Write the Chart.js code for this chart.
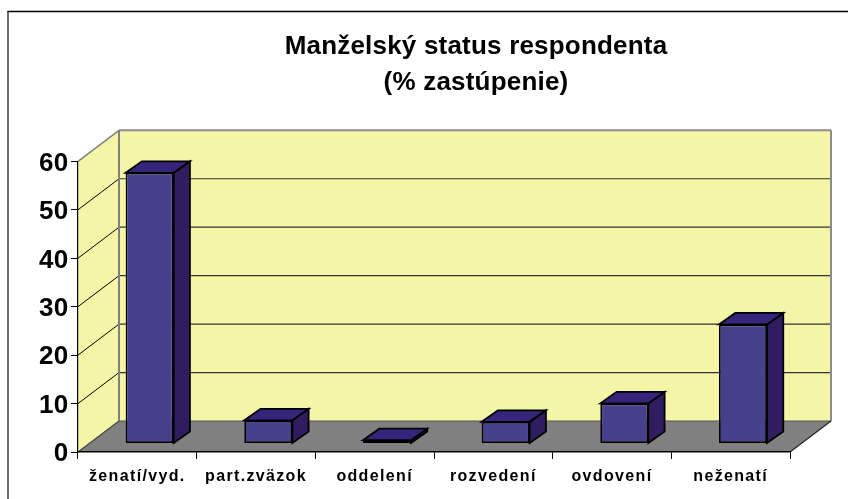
<!DOCTYPE html>
<html><head><meta charset="utf-8">
<style>html,body{margin:0;padding:0;background:#fff}canvas{display:block}</style>
<script src="https://cdn.jsdelivr.net/npm/chart.js@4"></script>
</head><body><canvas id="c" width="848" height="499"></canvas>
<script>
const categories = ['ženatí/vyd.','part.zväzok','oddelení','rozvedení','ovdovení','neženatí'];
const percentValues = [55.9, 4.8, 0.7, 4.5, 8.3, 24.6];
const titleLines = ['Manželský status respondenta','(% zastúpenie)'];

const DX = 41, DY = -31;
const SHIFT_X = 12.3, SHIFT_Y = -8.4, BAR_DX = 16.3, BAR_DY = -11.5;
const WALL = '#F5F5A8', FLOOR = '#808080', FRONT = '#47408C', SIDE = '#2F1D5F', TOP = '#36257B';

function poly(ctx, pts, fill, stroke, lw){
  ctx.beginPath();
  pts.forEach((p,i)=> i ? ctx.lineTo(p[0],p[1]) : ctx.moveTo(p[0],p[1]));
  ctx.closePath();
  if(fill){ctx.fillStyle=fill;ctx.fill();}
  if(stroke){ctx.strokeStyle=stroke;ctx.lineWidth=lw;ctx.lineJoin='miter';ctx.stroke();}
}
function seg(ctx,x1,y1,x2,y2,c,lw){
  ctx.beginPath();ctx.moveTo(x1,y1);ctx.lineTo(x2,y2);ctx.strokeStyle=c;ctx.lineWidth=lw;ctx.stroke();
}
function styled(obj, method, spacing, dy){
  if(obj['_w'+method]) return;
  obj['_w'+method]=true;
  const orig=obj[method];
  obj[method]=function(...a){
    const c=this.ctx;
    c.save();
    c.letterSpacing=spacing;
    c.translate(0,dy);
    orig.apply(this,a);
    c.restore();
  };
}
const scene = {
  id:'scene',
  afterLayout(chart){
    const t = chart.titleBlock;
    t.left = 104; t.right = 848;
    styled(t,'draw','0.2px',0);
    styled(chart.scales.x,'drawLabels','1.35px',0);
    styled(chart.scales.y,'drawLabels','0.3px',2.2);
  },
  beforeDraw(chart){
    const {ctx, chartArea:a, scales:{y}} = chart;
    ctx.save();
    ctx.fillStyle='#fff';ctx.fillRect(0,0,chart.width,chart.height);
    seg(ctx,8,11,8,499,'#404040',1.5);
    seg(ctx,7.5,11.5,848,11.5,'#000',1.5);
    const L=a.left,R=a.right,T=y.getPixelForValue(60),B=y.getPixelForValue(0);
    poly(ctx,[[L+DX,T+DY],[R+DX,T+DY],[R+DX,B+DY],[L+DX,B+DY]],WALL);
    poly(ctx,[[L,T],[L+DX,T+DY],[L+DX,B+DY],[L,B]],WALL);
    poly(ctx,[[L,B],[L+DX,B+DY],[R+DX,B+DY],[R,B]],FLOOR);
    y.ticks.forEach(t=>{
      if(t.value<=0||t.value>=60) return;
      const p=y.getPixelForValue(t.value);
      seg(ctx,L,p,L+DX,p+DY,'#000',1);
      seg(ctx,L+DX,p+DY,R+DX,p+DY,'#333',1.2);
    });
    seg(ctx,L,T,L+DX,T+DY,'#808080',1.5);
    seg(ctx,L+DX,T+DY,R+DX,T+DY,'#8c8c8c',2);
    seg(ctx,L+DX,T+DY,L+DX,B+DY,'#808080',2);
    seg(ctx,R+DX,T+DY,R+DX,B+DY,'#8c8c8c',2);
    seg(ctx,L+DX,B+DY,R+DX,B+DY,'#555',1.2);
    seg(ctx,L,B,L+DX,B+DY,'#444',1.2);
    seg(ctx,R,B,R+DX,B+DY,'#222',1.2);
    ctx.restore();
  },
  beforeDatasetDraw(chart,args){
    const ctx=chart.ctx;
    ctx.save();
    ctx.translate(SHIFT_X,SHIFT_Y);
    chart.getDatasetMeta(args.index).data.forEach(el=>{
      const l=el.x-el.width/2, r=el.x+el.width/2, t=el.y, b=el.base;
      poly(ctx,[[r,t],[r+BAR_DX,t+BAR_DY],[r+BAR_DX,b+BAR_DY],[r,b]],SIDE,'#000',1.8);
      poly(ctx,[[l,t],[l+BAR_DX,t+BAR_DY],[r+BAR_DX,t+BAR_DY],[r,t]],TOP,'#000',1.8);
    });
  },
  afterDatasetDraw(chart){ chart.ctx.restore(); }
};
new Chart(document.getElementById('c'),{
  type:'bar',
  data:{labels:categories,datasets:[{
    data:percentValues,backgroundColor:FRONT,borderColor:'#000',borderWidth:1.8,borderSkipped:false,
    barPercentage:0.4045,categoryPercentage:1,clip:false
  }]},
  plugins:[scene],
  options:{
    responsive:false,animation:false,devicePixelRatio:1,
    events:[],
    layout:{padding:{left:0,right:58,top:0,bottom:0}},
    plugins:{
      legend:{display:false},tooltip:{enabled:false},
      title:{display:true,text:titleLines,color:'#000',
        font:{family:'"Liberation Sans",Arial,sans-serif',size:26,weight:'bold',lineHeight:1.385},
        padding:{top:29,bottom:60.3}}
    },
    scales:{
      x:{
        afterFit(s){s.height=47;},
        grid:{display:true,drawOnChartArea:false,drawTicks:true,tickLength:7,color:'#000',offset:true},
        border:{display:true,color:'#000',width:1.5},
        ticks:{color:'#000',autoSkip:false,maxRotation:0,minRotation:0,padding:8,
          font:{family:'"Liberation Sans",Arial,sans-serif',size:16,weight:'bold'}}
      },
      y:{
        min:0,max:60,
        afterFit(s){s.width=78;},
        grid:{display:true,drawOnChartArea:false,drawTicks:true,tickLength:7,color:'#000'},
        border:{display:true,color:'#000',width:1.2},
        ticks:{stepSize:10,color:'#000',padding:2.5,
          font:{family:'"Liberation Sans",Arial,sans-serif',size:26,weight:'bold'}}
      }
    }
  }
});
</script></body></html>
